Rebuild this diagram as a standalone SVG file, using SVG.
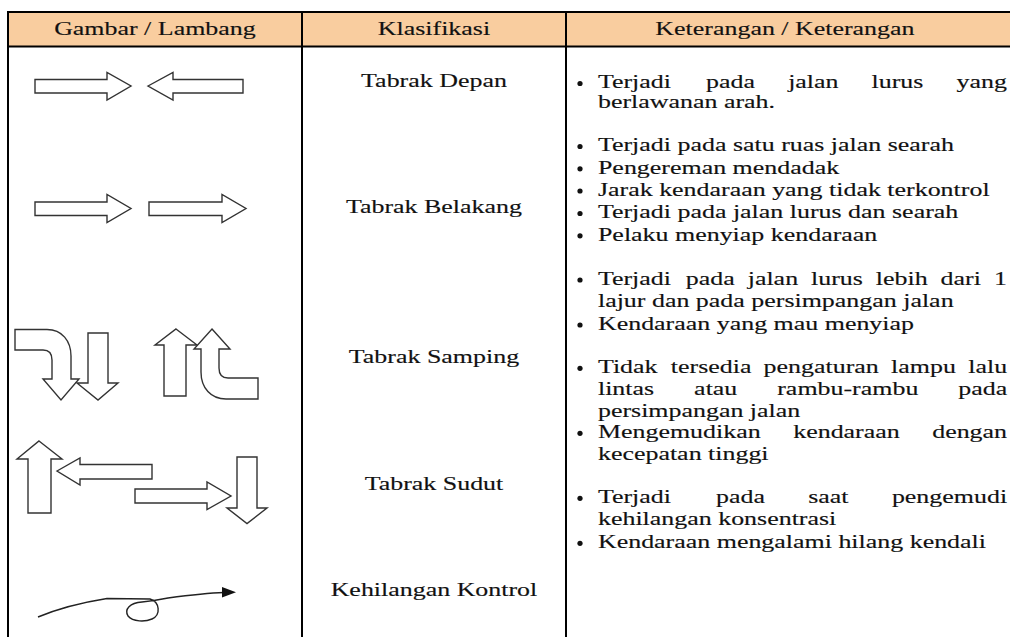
<svg xmlns="http://www.w3.org/2000/svg" width="1010" height="637" viewBox="0 0 1010 637">
<style>
.t{font-family:"Liberation Serif","Times New Roman",serif;font-size:19.5px;fill:#111;stroke:#111;stroke-width:0.15}
.c{text-anchor:middle}
.arr{fill:#fff;stroke:#333;stroke-width:1.4;stroke-linejoin:miter}
.ln{stroke:#000;stroke-width:2;fill:none}
.bul{fill:#111}
</style>
<rect width="1010" height="637" fill="#fff"/>
<g id="table-frame">
<rect x="8" y="12" width="1004" height="34.5" fill="#F9CD9F"/>
<line class="ln" x1="7" y1="12" x2="1010" y2="12"/>
<line class="ln" x1="7" y1="46.5" x2="1010" y2="46.5"/>
<line class="ln" x1="8" y1="11" x2="8" y2="637"/>
<line class="ln" x1="302" y1="11" x2="302" y2="637"/>
<line class="ln" x1="566" y1="11" x2="566" y2="637"/>
</g>
<g id="header">
<g transform="scale(1.33 1)">
<text class="t c" x="116.5" y="35">Gambar / Lambang</text>
<text class="t c" x="326.3" y="35">Klasifikasi</text>
<text class="t c" x="590.2" y="35">Keterangan / Keterangan</text>
</g>
</g>
<g id="row-tabrak-depan">
<path class="arr" d="M35,79.5 H107 V72.5 L131,86 L107,100 V93 H35 Z"/>
<path class="arr" d="M148,86 L173,72.5 V79.5 H243 V93 H173 V100 Z"/>
<g transform="scale(1.33 1)">
<text class="t c" x="326.3" y="87">Tabrak Depan</text>
</g>
</g>
<g id="row-tabrak-belakang">
<path class="arr" d="M35,202 H107 V194.5 L131,208.5 L107,222.5 V215.5 H35 Z"/>
<path class="arr" d="M149,202 H222 V194.5 L246,208.5 L222,222.5 V215.5 H149 Z"/>
<g transform="scale(1.33 1)">
<text class="t c" x="326.3" y="213">Tabrak Belakang</text>
</g>
</g>
<g id="row-tabrak-samping">
<path class="arr" d="M15,329.5 H47 C62,329.5 71,341 71,356 V379 H79 L61,400 L43,379 H52 V360 C52,354 49,350 43,350 H15 Z"/>
<path class="arr" d="M88,333 H108 V383 H118 L98,400 L77,383 H88 Z"/>
<path class="arr" d="M176,329 L197,345 H186 V396 H164 V345 H155 Z"/>
<path class="arr" d="M212,329 L230,349 H219 V368 C219,374 222,378 228,378 H258 V399 H226 C211,399 201,388 201,372 V349 H194 Z"/>
<g transform="scale(1.33 1)">
<text class="t c" x="326.3" y="363">Tabrak Samping</text>
</g>
</g>
<g id="row-tabrak-sudut">
<path class="arr" d="M39,441 L62,459 H51 V513 H28 V459 H17 Z"/>
<path class="arr" d="M57,471 L80,458 V464.5 H152 V479 H80 V485 Z"/>
<path class="arr" d="M135,489 H207 V482 L231,496 L207,509.5 V503 H135 Z"/>
<path class="arr" d="M237,457 H257 V508 H267 L247,523.5 L227,508 H237 Z"/>
<g transform="scale(1.33 1)">
<text class="t c" x="326.3" y="490">Tabrak Sudut</text>
</g>
</g>
<g id="row-kehilangan-kontrol">
<path d="M38,617 C62,607 85,602 107,598.5 L150,599 C160,602 161,615 152,619 C145,622 133,622 128,616 C124,609 130,603 142,602 C152,601 158,600 168,598 C190,595 205,593 224,592.5" fill="none" stroke="#222" stroke-width="1.4"/>
<polygon points="222,587 236,592.3 222,597.5" fill="#111"/>
<g transform="scale(1.33 1)">
<text class="t c" x="326.3" y="596">Kehilangan Kontrol</text>
</g>
</g>
<g id="descriptions">
<g class="bul">
<circle cx="580" cy="83.5" r="2.6"/>
<circle cx="580" cy="146.5" r="2.6"/>
<circle cx="580" cy="168.8" r="2.6"/>
<circle cx="580" cy="191" r="2.6"/>
<circle cx="580" cy="213.5" r="2.6"/>
<circle cx="580" cy="235.8" r="2.6"/>
<circle cx="580" cy="280" r="2.6"/>
<circle cx="580" cy="325" r="2.6"/>
<circle cx="580" cy="368.3" r="2.6"/>
<circle cx="580" cy="433.3" r="2.6"/>
<circle cx="580" cy="498.3" r="2.6"/>
<circle cx="580" cy="543.3" r="2.6"/>
</g>
<g transform="scale(1.33 1)">
<text class="t" y="88.5"><tspan x="449.6">Terjadi</tspan><tspan x="530.8">pada</tspan><tspan x="592.6">jalan</tspan><tspan x="655.3">lurus</tspan><tspan x="719.2">yang</tspan></text>
<text class="t" x="449.6" y="108">berlawanan arah.</text>
<text class="t" x="449.6" y="151.5">Terjadi pada satu ruas jalan searah</text>
<text class="t" x="449.6" y="173.8">Pengereman mendadak</text>
<text class="t" x="449.6" y="196">Jarak kendaraan yang tidak terkontrol</text>
<text class="t" x="449.6" y="218.5">Terjadi pada jalan lurus dan searah</text>
<text class="t" x="449.6" y="240.8">Pelaku menyiap kendaraan</text>
<text class="t" y="285"><tspan x="449.6">Terjadi</tspan><tspan x="515.6">pada</tspan><tspan x="562.2">jalan</tspan><tspan x="609.8">lurus</tspan><tspan x="658.5">lebih</tspan><tspan x="707.2">dari</tspan><tspan x="747.3">1</tspan></text>
<text class="t" x="449.6" y="307.3">lajur dan pada persimpangan jalan</text>
<text class="t" x="449.6" y="330">Kendaraan yang mau menyiap</text>
<text class="t" y="373.3"><tspan x="449.6">Tidak</tspan><tspan x="504.4">tersedia</tspan><tspan x="574.1">pengaturan</tspan><tspan x="670.0">lampu</tspan><tspan x="728.0">lalu</tspan></text>
<text class="t" y="395"><tspan x="449.6">lintas</tspan><tspan x="521.9">atau</tspan><tspan x="584.4">rambu-rambu</tspan><tspan x="720.5">pada</tspan></text>
<text class="t" x="449.6" y="416.7">persimpangan jalan</text>
<text class="t" y="438.3"><tspan x="449.6">Mengemudikan</tspan><tspan x="596.4">kendaraan</tspan><tspan x="700.9">dengan</tspan></text>
<text class="t" x="449.6" y="460">kecepatan tinggi</text>
<text class="t" y="503.3"><tspan x="449.6">Terjadi</tspan><tspan x="538.4">pada</tspan><tspan x="607.7">saat</tspan><tspan x="670.6">pengemudi</tspan></text>
<text class="t" x="449.6" y="525">kehilangan konsentrasi</text>
<text class="t" x="449.6" y="548.3">Kendaraan mengalami hilang kendali</text>
</g>
</g>
</svg>
